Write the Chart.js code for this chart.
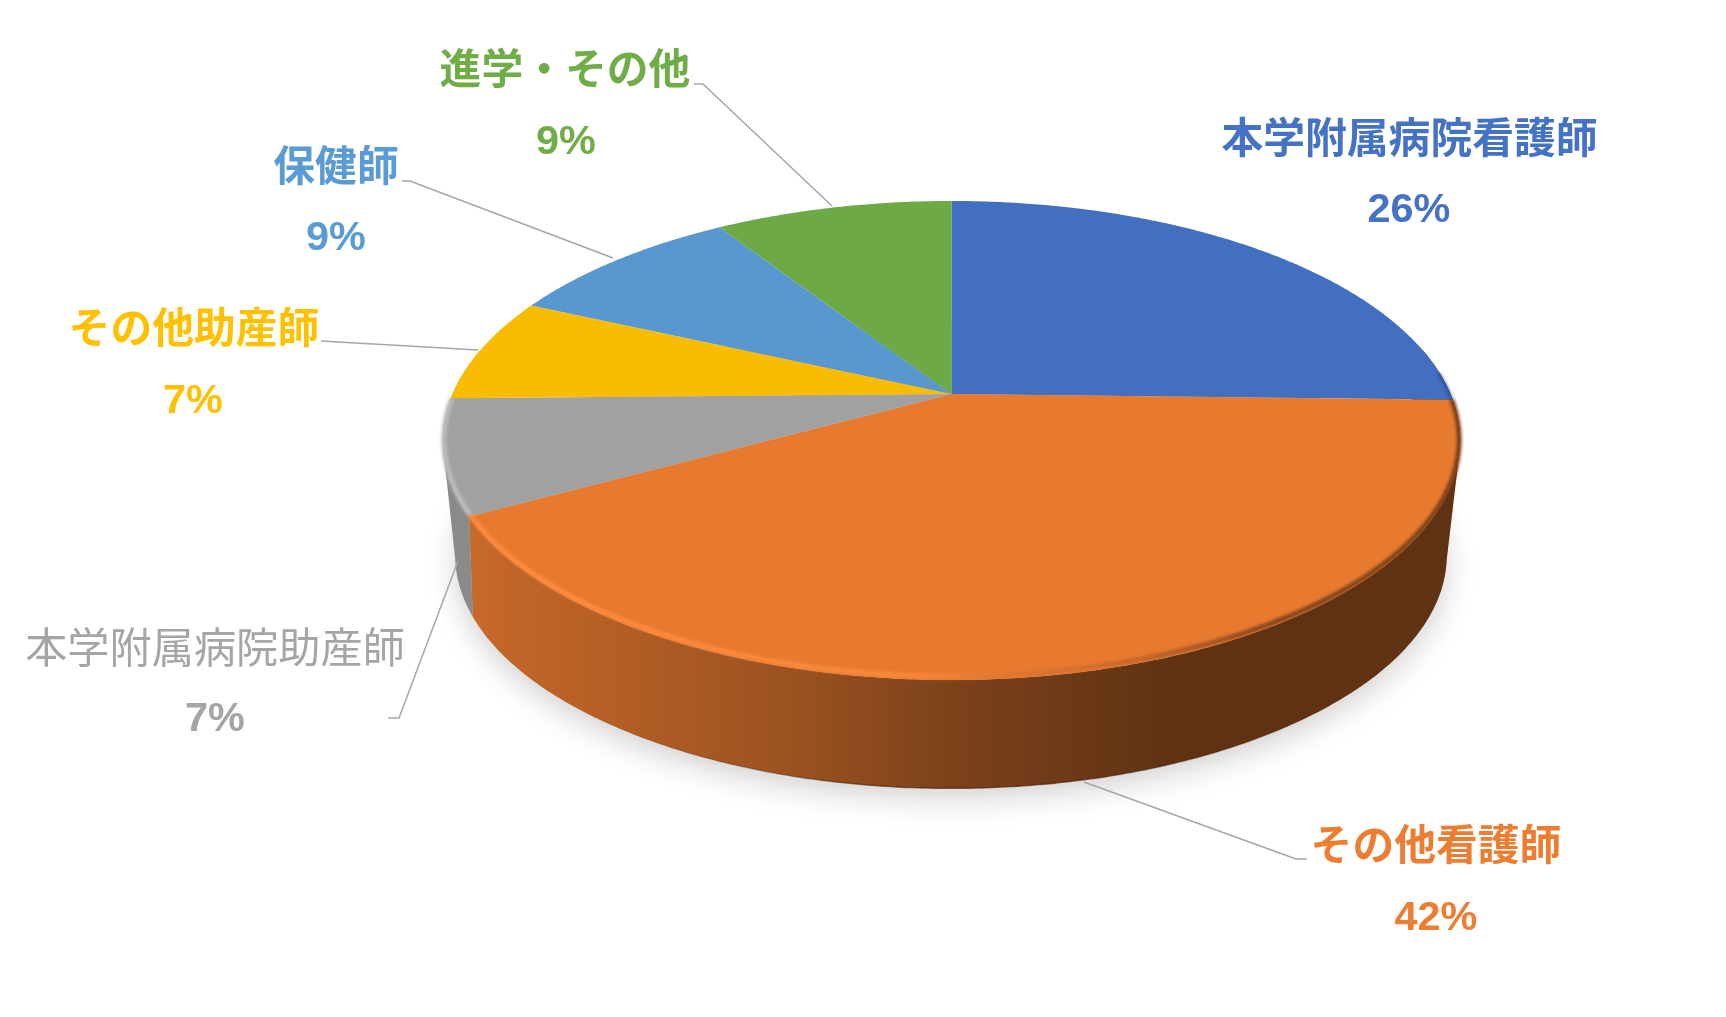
<!DOCTYPE html>
<html>
<head>
<meta charset="utf-8">
<style>
html, body { margin: 0; padding: 0; background: #fff; }
canvas { display: block; }
</style>
<script src="https://cdn.jsdelivr.net/npm/chart.js@4/dist/chart.umd.min.js"></script>
</head>
<body>
<canvas id="pie" width="1726" height="1017"></canvas>
<script>
// slice order, clockwise from the top
var categories = ['本学附属病院看護師', 'その他看護師', '本学附属病院助産師', 'その他助産師', '保健師', '進学・その他'];
var sliceValues = [25.4, 41.6, 7.7, 7.1, 9.1, 9.1];
var percentLabels = ['26%', '42%', '7%', '7%', '9%', '9%'];
var sliceColors = ['#4472C4', '#ED7D31', '#A5A5A5', '#FFC000', '#5B9BD5', '#70AD47'];

// where the label text sits: name centre, percent centre
var labelSpots = [
	[1409.5, 141.5, 1409, 210.5],
	[1436, 848.5, 1436, 918.5],
	[215, 651.5, 215, 719.5],
	[194, 331.5, 193, 401.5],
	[336, 169.5, 336, 238.5],
	[565, 72.5, 566, 142.5]
];
var leaderLines = [
	[[1307, 859], [1296, 859], [1084, 782]],
	[[388, 718], [399, 718], [458, 561]],
	[[321, 341], [478, 350]],
	[[402, 181], [410, 181], [613, 258]],
	[[694, 84], [703, 84], [832, 206]]
];

// perspective of the disc: top face and bottom face
var topFace = { cx: 951.5, cy: 394, rx: 499, b: 230.5, k: -0.194 };
var botFace = { cx: 951, cy: 497, rx: 480, b: 218.5, k: -0.25 };

function project(face, a) {
	var x = Math.cos(a), y = Math.sin(a);
	var d = 1 + face.k * y;
	return [face.cx + face.rx * x / d, face.cy + face.b * y / d];
}

function rim(ctx, face, a1, a2, moveFirst) {
	var n = Math.max(4, Math.ceil(Math.abs(a2 - a1) * 120));
	for (var i = 0; i <= n; i++) {
		var p = project(face, a1 + (a2 - a1) * i / n);
		if (i == 0 && moveFirst) ctx.moveTo(p[0], p[1]);
		else ctx.lineTo(p[0], p[1]);
	}
}

// wall as a strip of quads, all wound the same way or the overlaps near the silhouette cancel out
function wallPath(ctx, a1, a2) {
	var n = Math.max(4, Math.ceil((a2 - a1) * 120));
	ctx.beginPath();
	for (var i = 0; i < n; i++) {
		var s = a1 + (a2 - a1) * i / n, e = a1 + (a2 - a1) * (i + 1) / n;
		var q = [project(topFace, s), project(topFace, e), project(botFace, e), project(botFace, s)];
		var area = 0;
		for (var j = 0; j < 4; j++) {
			var u = q[j], v = q[(j + 1) % 4];
			area += u[0] * v[1] - v[0] * u[1];
		}
		if (area < 0) q.reverse();
		ctx.moveTo(q[0][0], q[0][1]);
		ctx.lineTo(q[1][0], q[1][1]);
		ctx.lineTo(q[2][0], q[2][1]);
		ctx.lineTo(q[3][0], q[3][1]);
		ctx.closePath();
	}
}

function wallShade(ctx) {
	var g = ctx.createLinearGradient(470, 0, 1460, 0);
	g.addColorStop(0, 'rgba(0,0,0,0.16)');
	g.addColorStop(0.33, 'rgba(0,0,0,0.35)');
	g.addColorStop(0.48, 'rgba(0,0,0,0.47)');
	g.addColorStop(0.71, 'rgba(0,0,0,0.60)');
	g.addColorStop(1, 'rgba(0,0,0,0.60)');
	return g;
}

var disc3d = {
	id: 'disc3d',
	beforeDatasetsDraw: function(chart) {
		var ctx = chart.ctx;
		var arcs = chart.getDatasetMeta(0).data;
		var front1 = -0.2, front2 = Math.PI + 0.2;

		// soft shadow under the disc
		ctx.save();
		ctx.shadowColor = 'rgba(0,0,0,0.18)';
		ctx.shadowBlur = 30;
		ctx.shadowOffsetY = 10;
		ctx.fillStyle = '#ccc';
		ctx.beginPath();
		rim(ctx, botFace, 0, Math.PI * 2, true);
		ctx.closePath();
		ctx.fill();
		ctx.restore();

		// side walls of the slices facing us
		arcs.forEach(function(arc, i) {
			var a1 = Math.max(arc.startAngle, front1);
			var a2 = Math.min(arc.endAngle, front2);
			if (a2 <= a1) return;
			wallPath(ctx, a1, a2);
			ctx.fillStyle = sliceColors[i];
			ctx.fill();
			ctx.fillStyle = wallShade(ctx);
			ctx.fill();
		});

		// darker line along the foot of the wall, only at the front
		var foot = ctx.createLinearGradient(470, 0, 1460, 0);
		foot.addColorStop(0.15, 'rgba(70,30,5,0)');
		foot.addColorStop(0.4, 'rgba(70,30,5,0.6)');
		foot.addColorStop(0.65, 'rgba(70,30,5,0.6)');
		foot.addColorStop(0.85, 'rgba(70,30,5,0)');
		ctx.beginPath();
		rim(ctx, botFace, arcs[1].startAngle, arcs[1].endAngle, true);
		ctx.strokeStyle = foot;
		ctx.lineWidth = 1.5;
		ctx.stroke();

		// top faces
		arcs.forEach(function(arc, i) {
			ctx.beginPath();
			ctx.moveTo(topFace.cx, topFace.cy);
			rim(ctx, topFace, arc.startAngle, arc.endAngle, false);
			ctx.closePath();
			ctx.fillStyle = sliceColors[i];
			ctx.fill();
			ctx.fillStyle = 'rgba(0,0,0,0.018)';
			ctx.fill();
		});

		// bevel on the front edge
		var edge = ctx.createLinearGradient(470, 0, 1460, 0);
		edge.addColorStop(0, 'rgba(255,140,62,1)');
		edge.addColorStop(0.45, 'rgba(255,140,62,0.8)');
		edge.addColorStop(0.62, 'rgba(190,100,40,0.5)');
		edge.addColorStop(0.8, 'rgba(110,58,22,0.8)');
		edge.addColorStop(1, 'rgba(110,58,22,0.9)');
		var inset = { cx: topFace.cx, cy: topFace.cy, rx: topFace.rx - 1, b: topFace.b - 3, k: topFace.k };

		ctx.save();
		ctx.filter = 'blur(1.5px)';
		ctx.lineCap = 'butt';
		ctx.lineWidth = 5;
		ctx.beginPath();
		rim(ctx, inset, arcs[1].startAngle, arcs[1].endAngle, true);
		ctx.strokeStyle = edge;
		ctx.stroke();
		ctx.beginPath();
		rim(ctx, inset, arcs[2].startAngle, arcs[2].endAngle, true);
		ctx.strokeStyle = '#bcbcbc';
		ctx.stroke();
		ctx.beginPath();
		rim(ctx, inset, arcs[0].endAngle - 0.12, arcs[0].endAngle, true);
		ctx.strokeStyle = 'rgba(40,70,120,0.7)';
		ctx.lineWidth = 3;
		ctx.stroke();
		ctx.restore();

		return false; // the arcs are drawn above, skip the flat ones
	},
	afterDraw: function(chart) {
		var ctx = chart.ctx;
		ctx.save();
		// leader lines
		ctx.strokeStyle = '#A6A6A6';
		ctx.lineWidth = 1.5;
		leaderLines.forEach(function(pts) {
			ctx.beginPath();
			pts.forEach(function(p, j) {
				if (j == 0) ctx.moveTo(p[0], p[1]);
				else ctx.lineTo(p[0], p[1]);
			});
			ctx.stroke();
		});
		// labels, the grey name is the only one not in bold
		ctx.textAlign = 'center';
		ctx.textBaseline = 'middle';
		categories.forEach(function(name, i) {
			var s = labelSpots[i];
			ctx.fillStyle = sliceColors[i];
			ctx.font = i == 2 ? 'normal 42.2px "Liberation Sans", "Noto Sans CJK JP"' : 'bold 41.8px "Liberation Sans", "Noto Sans CJK JP"';
			ctx.fillText(name, s[0], s[1]);
			ctx.font = 'bold 41.4px "Liberation Sans", "Noto Sans CJK JP"';
			ctx.fillText(percentLabels[i], s[2], s[3]);
		});
		ctx.restore();
	}
};

var myPieChart = new Chart(document.getElementById('pie').getContext('2d'), {
	type: 'pie',
	data: {
		labels: categories,
		datasets: [{
			data: sliceValues,
			backgroundColor: sliceColors,
			borderWidth: 0
		}]
	},
	options: {
		responsive: false,
		devicePixelRatio: 1,
		animation: false,
		plugins: {
			legend: { display: false },
			tooltip: { enabled: false }
		}
	},
	plugins: [disc3d]
});
</script>
</body>
</html>
